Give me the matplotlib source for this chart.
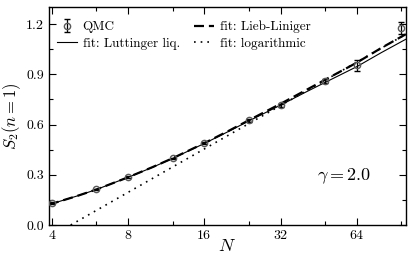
import numpy as np
import matplotlib
matplotlib.use('Agg')
import matplotlib.pyplot as plt
from matplotlib.ticker import FixedLocator, FixedFormatter, MultipleLocator

plt.rcParams.update({
    'font.family': 'serif',
    'font.serif': ['cmr10', 'DejaVu Serif'],
    'mathtext.fontset': 'cm',
    'axes.formatter.use_mathtext': True,
    'font.size': 10,
})

# ── QMC data ─────────────────────────────────────────────────────────────────
N_qmc = [4, 6, 8, 12, 16, 24, 32, 48, 64, 96]
S_qmc = [0.130, 0.213, 0.285, 0.398, 0.488, 0.625, 0.716, 0.861, 0.955, 1.178]
S_err = [0.006, 0.005, 0.005, 0.005, 0.006, 0.007, 0.008, 0.012, 0.033, 0.036]

# ── Fit curves ───────────────────────────────────────────────────────────────
N_fit = [3.9, 4, 5, 6, 8, 10, 12, 16, 20, 24, 32, 40, 48, 64, 80, 100]
S_lutt = [0.122, 0.127, 0.172, 0.212, 0.285, 0.345, 0.398, 0.487, 0.560,
          0.622, 0.716, 0.792, 0.852, 0.946, 1.030, 1.110]
S_ll = [0.122, 0.127, 0.172, 0.212, 0.285, 0.346, 0.399, 0.489, 0.563,
        0.626, 0.724, 0.803, 0.868, 0.970, 1.058, 1.140]

N_log = [4.75, 100]
S_log = [0.0, 1.14]

xticks = [4, 8, 16, 32, 64]
xminor = [6, 12, 24, 48, 96]

fig = plt.figure(figsize=(4.15, 2.56), dpi=100)
ax = fig.add_axes([0.118, 0.121, 0.860, 0.850])

h_ll, = ax.plot(N_fit, S_ll, color='black', ls=(0, (4.5, 2.2)), lw=1.6,
                label='fit: Lieb-Liniger')
h_lu, = ax.plot(N_fit, S_lutt, color='black', ls='-', lw=0.8,
                label='fit: Luttinger liq.')
h_lg, = ax.plot(N_log, S_log, color='black', ls=(0, (1, 3)), lw=1.2,
                label='fit: logarithmic')
h_q = ax.errorbar(N_qmc, S_qmc, yerr=S_err, fmt='o', ms=4.5, mfc='none',
                  mec='0.35', mew=1.0, ecolor='black', elinewidth=0.9,
                  capsize=2.5, capthick=0.9, label='QMC', zorder=5)

ax.set_xscale('log', base=2)
ax.set_xlim(3.9, 100)
ax.set_ylim(0, 1.3)
ax.xaxis.set_major_locator(FixedLocator(xticks))
ax.xaxis.set_major_formatter(FixedFormatter([str(v) for v in xticks]))
ax.xaxis.set_minor_locator(FixedLocator(xminor))
ax.xaxis.set_minor_formatter(FixedFormatter([''] * len(xminor)))
ax.yaxis.set_major_locator(MultipleLocator(0.3))
ax.yaxis.set_minor_locator(MultipleLocator(0.15))
ax.yaxis.set_major_formatter(plt.FuncFormatter(lambda v, p: f'{v:.1f}'))

ax.tick_params(which='both', direction='in', top=True, right=True)
ax.tick_params(which='major', length=5, width=0.8)
ax.tick_params(which='minor', length=3, width=0.8)
for s in ax.spines.values():
    s.set_linewidth(1.0)

ax.set_xlabel(r'$N$', fontsize=13, labelpad=-3)
ax.set_ylabel(r'$S_2(n=1)$', fontsize=12, labelpad=2)

ax.text(57, 0.29, r'$\gamma = 2.0$', fontsize=13, ha='center', va='center')

ax.legend([h_q, h_lu, h_ll, h_lg],
          ['QMC', 'fit: Luttinger liq.', 'fit: Lieb-Liniger', 'fit: logarithmic'],
          ncol=2, loc='upper left', bbox_to_anchor=(0.0, 0.975),
          frameon=False, fontsize=9.5,
          handlelength=1.5, handletextpad=0.45, columnspacing=1.1,
          borderaxespad=0.2, labelspacing=0.3)

fig.savefig('out.png', dpi=100)
